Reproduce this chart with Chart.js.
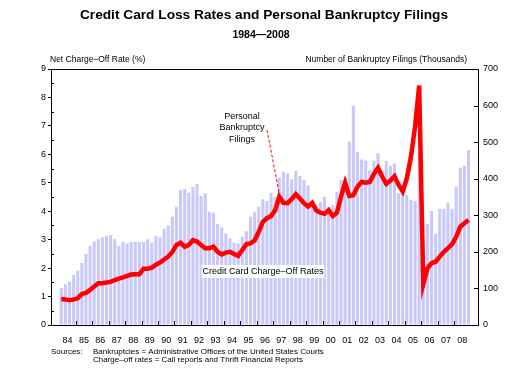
<!DOCTYPE html>
<html>
<head>
<meta charset="utf-8">
<script src="https://cdn.jsdelivr.net/npm/chart.js@4/dist/chart.umd.min.js"></script>
<style>
  html, body { margin: 0; padding: 0; background: #fff; }
</style>
</head>
<body>
<canvas id="chart" width="509" height="383"></canvas>
<script>
const years = [1984, 1985, 1986, 1987, 1988, 1989, 1990, 1991, 1992, 1993, 1994, 1995,
  1996, 1997, 1998, 1999, 2000, 2001, 2002, 2003, 2004, 2005, 2006, 2007, 2008];
const yearLabels = ["84", "85", "86", "87", "88", "89", "90", "91", "92", "93", "94", "95",
  "96", "97", "98", "99", "00", "01", "02", "03", "04", "05", "06", "07", "08"];

// net charge-off rate (%), quarterly 1984Q1 - 2008Q4
const chargeOffRates = [
  1.29, 1.44, 1.52, 1.76, 1.91, 2.18, 2.50, 2.78, 2.94, 3.02, 3.08, 3.13,
  3.16, 3.02, 2.78, 2.92, 2.86, 2.92, 2.92, 2.92, 2.92, 3.02, 2.89, 3.13,
  3.08, 3.38, 3.49, 3.81, 4.16, 4.75, 4.78, 4.65, 4.85, 4.96, 4.54, 4.63,
  3.98, 3.95, 3.55, 3.43, 3.22, 3.05, 2.89, 2.87, 3.10, 3.30, 3.81, 3.97,
  4.16, 4.42, 4.36, 4.65, 4.51, 5.19, 5.38, 5.33, 5.12, 5.41, 5.24, 5.10,
  4.91, 4.34, 4.16, 4.33, 4.51, 4.16, 4.22, 4.68, 5.10, 5.18, 6.45, 7.71,
  6.09, 5.82, 5.78, 5.45, 5.78, 6.04, 5.45, 5.77, 5.59, 5.68, 4.63, 4.63,
  4.57, 4.40, 4.36, 6.06, 1.40, 3.55, 4.01, 3.20, 4.08, 4.08, 4.28, 4.08,
  4.86, 5.53, 5.59, 6.15
];

// personal bankruptcy filings (thousands), quarterly 1984Q1 - 2008Q4
const filings = [
  71, 70, 68, 70, 73, 85, 88, 96, 105, 114, 114, 116,
  118, 123, 127, 130, 134, 138, 139, 139, 154, 154, 157, 165,
  171, 179, 187, 200, 219, 225, 214, 219, 232, 228, 219, 210,
  210, 214, 200, 193, 198, 200, 194, 189, 205, 221, 223, 231,
  255, 282, 292, 298, 314, 351, 334, 333, 344, 358, 346, 333,
  324, 334, 313, 307, 304, 314, 298, 307, 351, 389, 353, 355,
  378, 391, 389, 391, 413, 430, 406, 386, 395, 407, 383, 365,
  401, 460, 542, 655, 112, 155, 169, 173, 187, 200, 210, 221,
  241, 269, 278, 287
];

const FONT = "'Liberation Sans', Arial, Helvetica, sans-serif";

// centre of each quarter on the year axis
const quarterX = years.flatMap(y => [0, 1, 2, 3].map(q => y + q / 4 + 0.125));

const decor = {
  id: "decor",
  beforeDraw(chart) {
    const c = chart.ctx;
    c.save();
    c.fillStyle = "#fff";
    c.fillRect(0, 0, chart.width, chart.height);
    c.restore();
  },
  afterDraw(chart) {
    const c = chart.ctx;
    const a = chart.chartArea;
    const x = chart.scales.x, y = chart.scales.y, y2 = chart.scales.y2;
    c.save();
    c.strokeStyle = "#000";
    c.lineWidth = 1;

    // top frame line
    c.beginPath();
    c.moveTo(a.left, Math.round(a.top) + 0.5);
    c.lineTo(a.right, Math.round(a.top) + 0.5);
    c.stroke();

    // year ticks, pointing in
    c.beginPath();
    years.slice(1).forEach(yr => {
      const px = Math.round(x.getPixelForValue(yr)) + 0.5;
      c.moveTo(px, a.bottom);
      c.lineTo(px, a.bottom - 4);
    });
    // half-step ticks on the left axis, ticks on the right axis, all pointing in
    for (let v = 0.5; v < 9; v += 1) {
      const py = Math.round(y.getPixelForValue(v)) + 0.5;
      c.moveTo(a.left, py);
      c.lineTo(a.left + 3, py);
    }
    for (let v = 100; v < 700; v += 100) {
      const py = Math.round(y2.getPixelForValue(v)) + 0.5;
      c.moveTo(a.right, py);
      c.lineTo(a.right - 4, py);
    }
    c.stroke();

    c.fillStyle = "#000";
    c.textAlign = "center";
    c.textBaseline = "alphabetic";
    c.font = "bold 13.7px " + FONT;
    c.fillText("Credit Card Loss Rates and Personal Bankruptcy Filings", 264, 18.5);
    c.font = "bold 10.5px " + FONT;
    c.fillText("1984\u20142008", 261, 37.5);

    c.font = "8.5px " + FONT;
    c.textBaseline = "middle";
    c.textAlign = "left";
    c.fillText("Net Charge\u2013Off Rate (%)", 50, 60);
    c.textAlign = "right";
    c.fillText("Number of Bankruptcy Filings (Thousands)", 467, 60);

    // annotation for the filings line
    const tipX = x.getPixelForValue(quarterX[53]);
    const tipY = y2.getPixelForValue(filings[53]);
    c.textAlign = "center";
    c.font = "9px " + FONT;
    c.fillText("Personal", 242, 117);
    c.fillText("Bankruptcy", 242, 128);
    c.fillText("Filings", 242, 140);
    c.strokeStyle = "#ff0000";
    c.setLineDash([3, 2]);
    c.beginPath();
    c.moveTo(267, 130);
    c.lineTo(tipX, tipY - 3);
    c.stroke();
    c.setLineDash([]);

    // label for the bars
    const label = "Credit Card Charge\u2013Off Rates";
    c.font = "9px " + FONT;
    const w = c.measureText(label).width;
    c.fillStyle = "#fff";
    c.fillRect(263 - w / 2 - 1, 265, w + 2, 13);
    c.fillStyle = "#000";
    c.fillText(label, 263, 272);

    // sources
    c.font = "8px " + FONT;
    c.textAlign = "left";
    c.fillText("Sources:", 51, 352);
    c.fillText("Bankruptcies = Administrative Offices of the United States Courts", 93, 352);
    c.fillText("Charge\u2013off rates = Call reports and Thrift Financial Reports", 93, 360);
    c.restore();
  }
};

const tickFont = { family: FONT, size: 9 };

new Chart(document.getElementById("chart"), {
  type: "bar",
  data: {
    datasets: [
      {
        type: "line",
        label: "Personal Bankruptcy Filings",
        data: quarterX.map((qx, i) => ({ x: qx, y: filings[i] })),
        yAxisID: "y2",
        borderColor: "#ff0000",
        borderWidth: 4.5,
        pointRadius: 0,
        tension: 0,
        order: 0
      },
      {
        type: "bar",
        label: "Credit Card Charge-Off Rates",
        data: quarterX.map((qx, i) => ({ x: qx, y: chargeOffRates[i] })),
        yAxisID: "y",
        backgroundColor: "#c8c8fa",
        barPercentage: 1,
        categoryPercentage: 0.75,
        order: 1
      }
    ]
  },
  options: {
    responsive: false,
    animation: false,
    devicePixelRatio: 1,
    layout: { padding: { top: 69, left: 0, right: 0, bottom: 0 } },
    plugins: { legend: { display: false }, tooltip: { enabled: false } },
    scales: {
      x: {
        type: "linear",
        offset: false,
        min: 1983.5,
        max: 2009.45,
        grid: { display: false, drawTicks: false, offset: false },
        border: { display: true, color: "#000", width: 1 },
        afterBuildTicks: s => { s.ticks = years.map(yr => ({ value: yr + 0.5 })); },
        afterFit: s => { s.height = 58; },
        ticks: {
          autoSkip: false,
          maxRotation: 0,
          padding: 10,
          color: "#000",
          font: tickFont,
          callback: (v, i) => yearLabels[i]
        }
      },
      y: {
        position: "left",
        min: 0,
        max: 9,
        afterFit: s => { s.width = 51; },
        grid: { drawOnChartArea: false, tickLength: 3, color: "#000" },
        border: { display: true, color: "#000" },
        ticks: { stepSize: 1, padding: 2, color: "#000", font: tickFont }
      },
      y2: {
        position: "right",
        min: 0,
        max: 700,
        afterFit: s => { s.width = 31; },
        grid: { display: false, drawTicks: false },
        border: { display: true, color: "#000" },
        ticks: { stepSize: 100, padding: 5, color: "#000", font: tickFont }
      }
    }
  },
  plugins: [decor]
});
</script>
</body>
</html>
